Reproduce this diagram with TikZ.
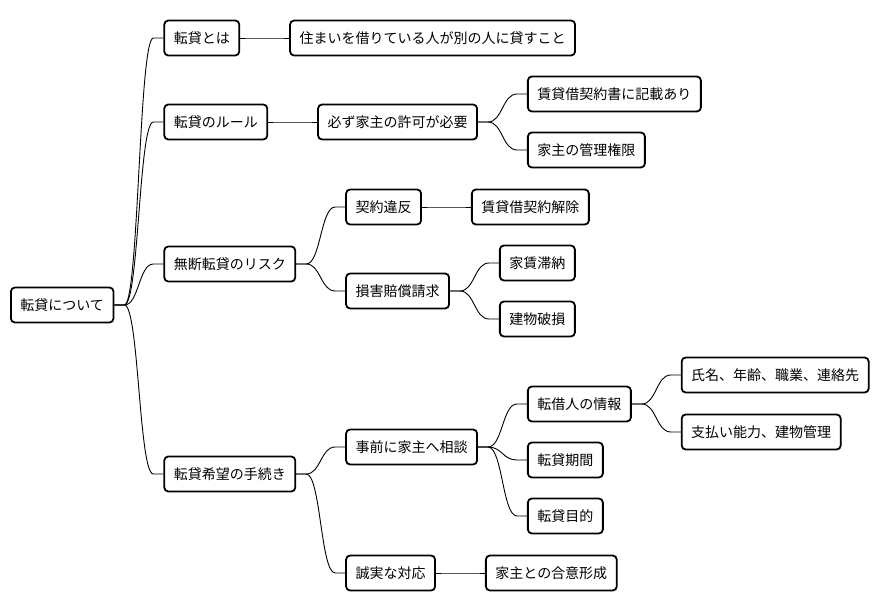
\documentclass[tikz,border=0pt]{standalone}
\usepackage{fontspec}
\setmainfont{Noto Sans CJK JP}
\usepackage{tikz}
\usetikzlibrary{calc,positioning}

\begin{document}
\begin{tikzpicture}[x=1pt, y=1pt, node distance=49pt,
    box/.style={draw, rounded corners=4pt, line width=1.8pt, fill=white, inner xsep=9.5pt, minimum height=35pt, font=\fontsize{14}{16}\selectfont},
    link/.style={line width=0.9pt, to path={
        -- ++(10pt,0) coordinate (link_start)
        let \p1=(link_start), \p2=($(\tikztotarget)+(-10pt,0)$) in
        .. controls ({0.5*\x1+0.5*\x2},\y1) and ({0.5*\x1+0.5*\x2},\y2) .. (\p2) -- (\tikztotarget)}}]
    \useasboundingbox (0,0) rectangle (880,-612);

    \node [box, anchor=west] (root) at (10,-305) {転貸について};

    % first level
    \node [box, right=of root, yshift=267pt] (what_is) {転貸とは};
    \node [box, right=of root, yshift=183pt] (rule) {転貸のルール};
    \node [box, right=of root, yshift=41pt] (risk) {無断転貸のリスク};
    \node [box, right=of root, yshift=-169pt] (procedure) {転貸希望の手続き};

    \node [box, right=of what_is] (definition) {住まいを借りている人が別の人に貸すこと};

    \node [box, right=of rule] (permission) {必ず家主の許可が必要};
    \node [box, right=of permission, yshift=28pt] (in_contract) {賃貸借契約書に記載あり};
    \node [box, right=of permission, yshift=-28pt] (owner_right) {家主の管理権限};

    \node [box, right=of risk, yshift=57pt] (breach) {契約違反};
    \node [box, right=of breach] (cancel) {賃貸借契約解除};
    \node [box, right=of risk, yshift=-27pt] (damages) {損害賠償請求};
    \node [box, right=of damages, yshift=28pt] (rent_unpaid) {家賃滞納};
    \node [box, right=of damages, yshift=-28pt] (building_damage) {建物破損};

    \node [box, right=of procedure, yshift=27pt] (consult) {事前に家主へ相談};
    \node [box, right=of consult, yshift=43pt] (tenant_info) {転借人の情報};
    \node [box, right=of tenant_info, yshift=29pt] (personal) {氏名、年齢、職業、連絡先};
    \node [box, right=of tenant_info, yshift=-28pt] (ability) {支払い能力、建物管理};
    \node [box, right=of consult, yshift=-13pt] (period) {転貸期間};
    \node [box, right=of consult, yshift=-69pt] (purpose) {転貸目的};
    \node [box, right=of procedure, yshift=-99pt] (sincere) {誠実な対応};
    \node [box, right=of sincere] (agreement) {家主との合意形成};

    % branches
    \draw[link] (root.east) to (what_is.west);
    \draw[link] (root.east) to (rule.west);
    \draw[link] (root.east) to (risk.west);
    \draw[link] (root.east) to (procedure.west);
    \draw[link] (what_is.east) to (definition.west);
    \draw[link] (rule.east) to (permission.west);
    \draw[link] (permission.east) to (in_contract.west);
    \draw[link] (permission.east) to (owner_right.west);
    \draw[link] (risk.east) to (breach.west);
    \draw[link] (breach.east) to (cancel.west);
    \draw[link] (risk.east) to (damages.west);
    \draw[link] (damages.east) to (rent_unpaid.west);
    \draw[link] (damages.east) to (building_damage.west);
    \draw[link] (procedure.east) to (consult.west);
    \draw[link] (consult.east) to (tenant_info.west);
    \draw[link] (tenant_info.east) to (personal.west);
    \draw[link] (tenant_info.east) to (ability.west);
    \draw[link] (consult.east) to (period.west);
    \draw[link] (consult.east) to (purpose.west);
    \draw[link] (procedure.east) to (sincere.west);
    \draw[link] (sincere.east) to (agreement.west);

\end{tikzpicture}
\end{document}
